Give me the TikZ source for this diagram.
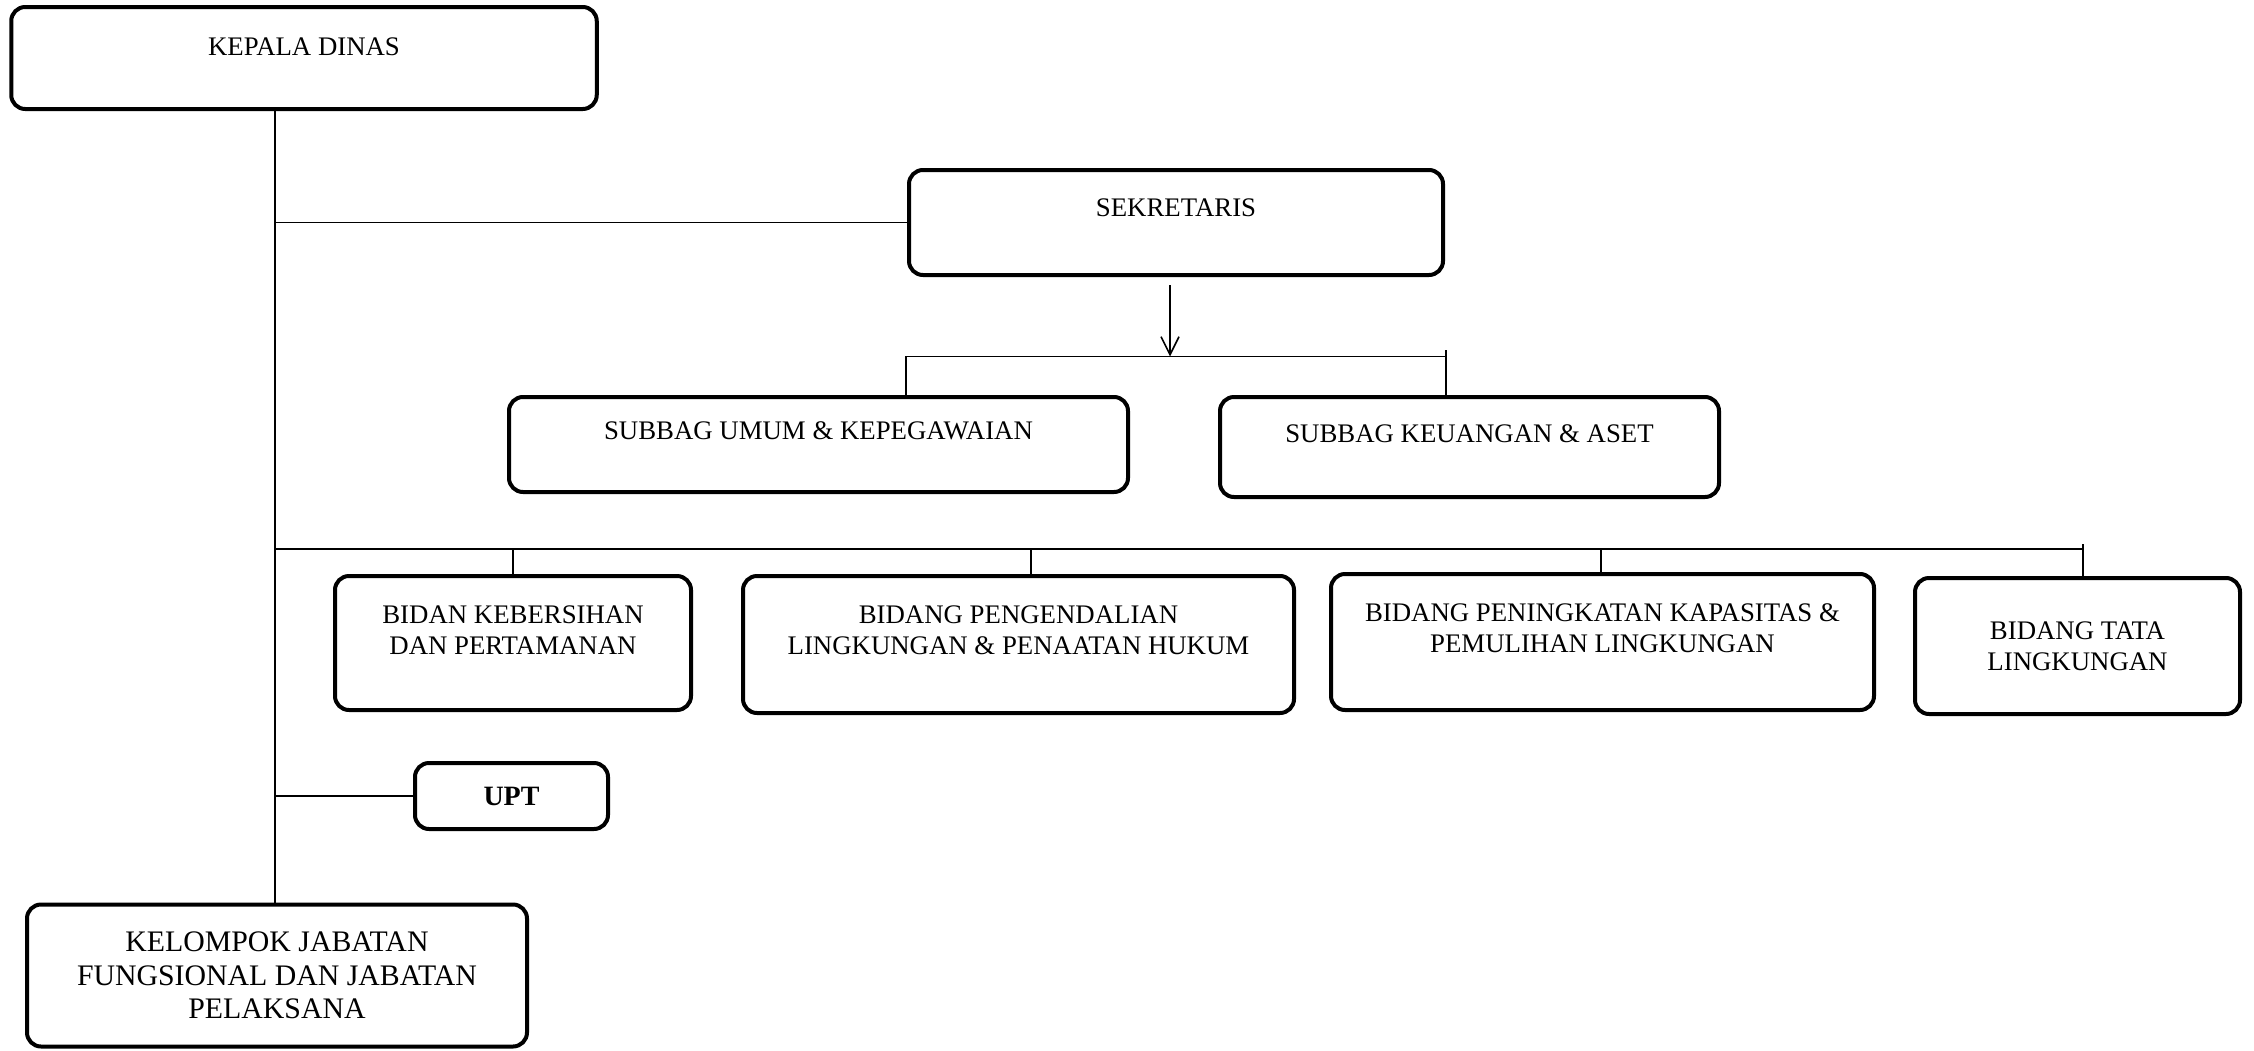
\documentclass[tikz,border=0pt]{standalone}
\usepackage{fontspec}
\setmainfont{Liberation Serif}
\usepackage{tikz}
\usetikzlibrary{arrows.meta,positioning,calc}

\begin{document}
\begin{tikzpicture}[x=0.5pt,y=-0.5pt,
    box/.style={draw,line width=2pt,rounded corners=7pt,inner sep=0pt},
    txt/.style={align=center,inner sep=0pt,font=\fontsize{13.4}{15.5}\selectfont},
    link/.style={line width=0.8pt}]
  \useasboundingbox (0,0) rectangle (2254,1050);

  % kepala dinas
  \node[box,minimum width=292.75pt,minimum height=51pt] (kadis) at (304,58) {};
  \node[txt] (kadisT) at ([yshift=-21pt]kadis.north) {KEPALA DINAS};

  % sekretaris
  \node[box,minimum width=267pt,minimum height=52.5pt] (sekre) at (1176,222.5) {};
  \node[txt] (sekreT) at ([yshift=-20pt]sekre.north) {SEKRETARIS};

  % subbag
  \node[box,minimum width=309.5pt,minimum height=47.5pt] (umum) at (818.5,444.5) {};
  \node[txt] (umumT) at ([yshift=-18pt]umum.north) {SUBBAG UMUM \& KEPEGAWAIAN};
  \node[box,minimum width=249.5pt,minimum height=50pt] (keu) at (1469.5,447) {};
  \node[txt] (keuT) at ([yshift=-19.5pt]keu.north) {SUBBAG KEUANGAN \& ASET};

  % bidang
  \node[box,minimum width=178pt,minimum height=67pt] (bidan) at (513,643) {};
  \node[txt] (bidanT) at ([yshift=-28pt]bidan.north) {BIDAN KEBERSIHAN\\DAN PERTAMANAN};
  \node[box,minimum width=275.5pt,minimum height=68.5pt] (kendali) at (1018.5,644.5) {};
  \node[txt] (kendaliT) at ([yshift=-28pt]kendali.north) {BIDANG PENGENDALIAN\\LINGKUNGAN \& PENAATAN HUKUM};
  \node[box,minimum width=271.5pt,minimum height=68pt] (tingkat) at (1602.5,642) {};
  \node[txt] (tingkatT) at ([yshift=-28pt]tingkat.north) {BIDANG PENINGKATAN KAPASITAS \&\\PEMULIHAN LINGKUNGAN};
  \node[box,txt,minimum width=162.5pt,minimum height=68pt] (tata) at (2077.5,646) {BIDANG TATA\\LINGKUNGAN};

  % upt
  \node[box,minimum width=96.5pt,minimum height=33pt,font=\fontsize{14}{16}\selectfont\bfseries] (upt) at (511.5,796) {UPT};

  % kelompok jabatan
  \node[box,txt,minimum width=250pt,minimum height=71pt,font=\fontsize{14.9}{16.75}\selectfont] (kjf) at (277,975.5) {KELOMPOK JABATAN\\FUNGSIONAL DAN JABATAN\\PELAKSANA};

  % trunk
  \coordinate (trunk) at (275,0);
  \draw[link] (kadis.south -| trunk) -- (kjf.north -| trunk);
  \draw[link] (sekre.west -| trunk) -- (sekre.west);
  \draw[link] (upt.west -| trunk) -- (upt.west);

  % sekretaris to subbag
  \coordinate (sbarL) at (906,356.5);
  \coordinate (sbarM) at (1170,356.5);
  \coordinate (sbarR) at (1446,356.5);
  \draw[link,-{Straight Barb[length=9pt,width=9pt]}] ([yshift=-4pt]sekre.south -| sbarM) -- (sbarM);
  \draw[link] (umum.north -| sbarL) -- (sbarL) -- (sbarR) -- (keu.north -| sbarR);
  \draw[link] (sbarR) -- ++(0,-7);

  % bus to bidang
  \coordinate (bus) at (0,549);
  \coordinate (busEnd) at (2083,549);
  \draw[link,line width=1pt] (bus -| trunk) -- (busEnd);
  \draw[link] (busEnd) -- ++(0,-5);
  \foreach \b/\x in {bidan/513,kendali/1031,tingkat/1601,tata/2083} {
    \coordinate (drop) at (\x,549);
    \draw[link] (drop) -- (\b.north -| drop);
  }
\end{tikzpicture}
\end{document}
